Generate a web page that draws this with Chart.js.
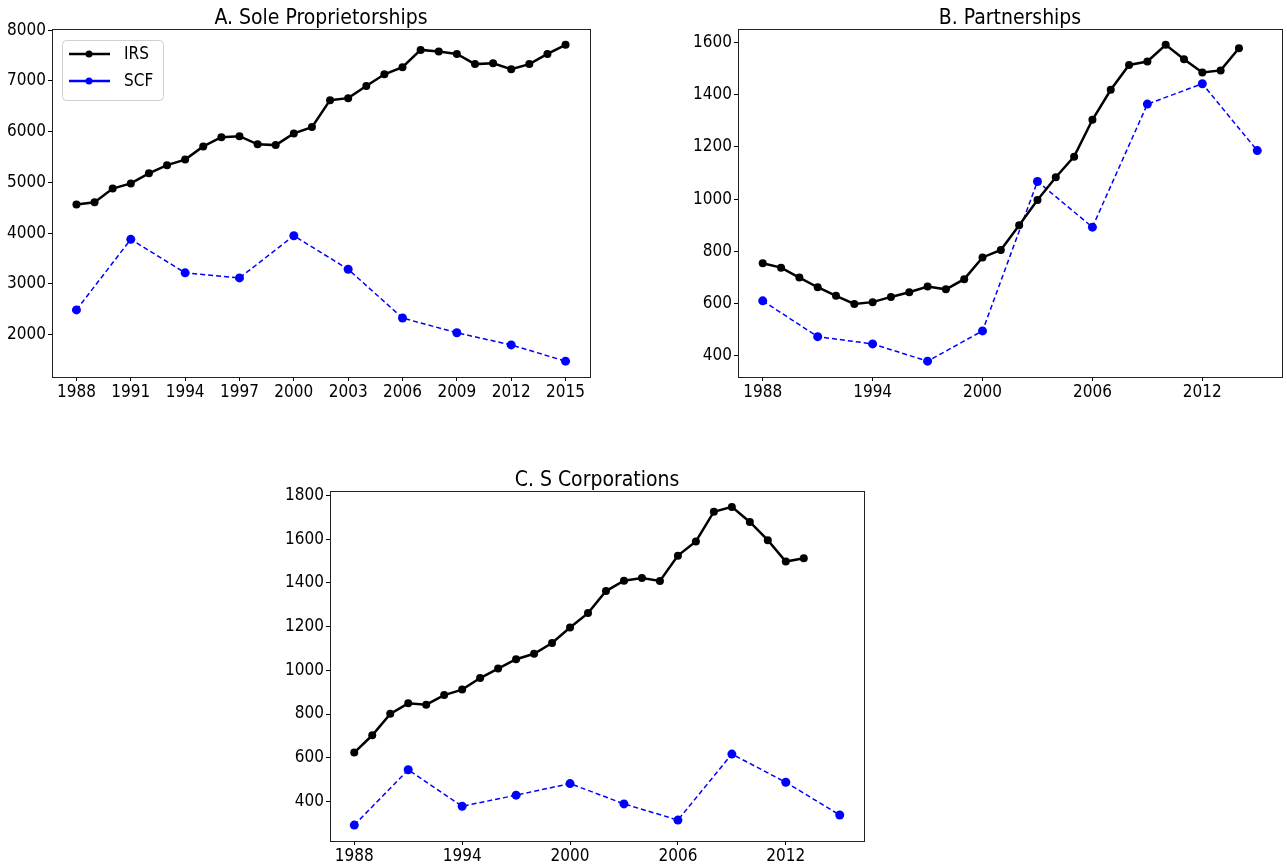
<!DOCTYPE html>
<html>
<head>
<meta charset="utf-8">
<script src="https://cdn.jsdelivr.net/npm/chart.js@4"></script>
<style>
  body { margin: 0; background: #fff; }
  #wrap { position: relative; width: 1287px; height: 867px; overflow: hidden; }
  canvas { position: absolute; }
</style>
</head>
<body>
<div id="wrap">
  <canvas id="chartA" width="600" height="410" style="left:0px;top:0px"></canvas>
  <canvas id="chartB" width="601" height="410" style="left:686px;top:0px"></canvas>
  <canvas id="chartC" width="600" height="405" style="left:278px;top:462px"></canvas>
</div>
<script>
// Years with IRS counts and SCF survey years
const yearsA = [1988, 1989, 1990, 1991, 1992, 1993, 1994, 1995, 1996, 1997, 1998, 1999, 2000, 2001,
                2002, 2003, 2004, 2005, 2006, 2007, 2008, 2009, 2010, 2011, 2012, 2013, 2014, 2015];
const yearsB = [1988, 1989, 1990, 1991, 1992, 1993, 1994, 1995, 1996, 1997, 1998, 1999, 2000, 2001,
                2002, 2003, 2004, 2005, 2006, 2007, 2008, 2009, 2010, 2011, 2012, 2013, 2014];
const yearsC = [1988, 1989, 1990, 1991, 1992, 1993, 1994, 1995, 1996, 1997, 1998, 1999, 2000, 2001,
                2002, 2003, 2004, 2005, 2006, 2007, 2008, 2009, 2010, 2011, 2012, 2013];
const scfYears = [1988, 1991, 1994, 1997, 2000, 2003, 2006, 2009, 2012, 2015];

// A. Sole Proprietorships
const irsA = [4565, 4610, 4880, 4980, 5180, 5340, 5450, 5710, 5890, 5910, 5750, 5735, 5965, 6090,
              6620, 6660, 6900, 7130, 7270, 7610, 7580, 7530, 7330, 7345, 7230, 7330, 7530, 7710];
const scfA = [2490, 3880, 3220, 3120, 3950, 3290, 2330, 2040, 1800, 1480];

// B. Partnerships
const irsB = [755, 738, 700, 663, 630, 599, 606, 626, 644, 666, 655, 694, 777, 806,
              900, 997, 1084, 1163, 1304, 1419, 1514, 1527, 1591, 1536, 1485, 1493, 1578];
const scfB = [611, 474, 446, 380, 496, 1068, 893, 1364, 1442, 1186];

// C. S Corporations
const irsC = [624, 703, 801, 849, 843, 887, 912, 965, 1008, 1051, 1076, 1125, 1196, 1262,
              1363, 1410, 1423, 1409, 1525, 1590, 1726, 1748, 1679, 1596, 1498, 1513];
const scfC = [292, 545, 378, 429, 482, 389, 315, 617, 488, 338];

const xTicksA = [1988, 1991, 1994, 1997, 2000, 2003, 2006, 2009, 2012, 2015];
const xTicksBC = [1988, 1994, 2000, 2006, 2012];
const yTicksA = [2000, 3000, 4000, 5000, 6000, 7000, 8000];
const yTicksB = [400, 600, 800, 1000, 1200, 1400, 1600];
const yTicksC = [400, 600, 800, 1000, 1200, 1400, 1600, 1800];

const FONT = "'DejaVu Sans Condensed', 'DejaVu Sans', sans-serif";

function pts(xs, ys) {
  return xs.map((x, i) => ({ x: x, y: ys[i] }));
}

// matplotlib style 5% margins
function limits(values) {
  const lo = Math.min(...values), hi = Math.max(...values);
  const pad = (hi - lo) * 0.05;
  return [lo - pad, hi + pad];
}

const framePlugin = {
  id: 'frame',
  afterDraw(chart, args, opts) {
    const ctx = chart.ctx, a = chart.chartArea;
    ctx.save();
    ctx.strokeStyle = '#222';
    ctx.lineWidth = 1;
    ctx.strokeRect(Math.round(a.left) + 0.5, Math.round(a.top) + 0.5,
                   Math.round(a.right - a.left), Math.round(a.bottom - a.top));
    // panel title
    ctx.fillStyle = '#000';
    ctx.font = '21px ' + FONT;
    ctx.textAlign = 'center';
    ctx.textBaseline = 'alphabetic';
    ctx.fillText(opts.title, (a.left + a.right) / 2, a.top - 5);
    // legend
    if (opts.legend) {
      const x0 = a.left + 10, y0 = a.top + 11, w = 101, h = 60;
      ctx.beginPath();
      ctx.roundRect(x0 + 0.5, y0 + 0.5, w, h, 4);
      ctx.fillStyle = 'rgba(255,255,255,0.8)';
      ctx.fill();
      ctx.strokeStyle = '#d0d0d0';
      ctx.stroke();
      const rows = [['IRS', '#000000', y0 + 14], ['SCF', '#0000ff', y0 + 41]];
      rows.forEach(r => {
        ctx.strokeStyle = r[1];
        ctx.lineWidth = 2.5;
        ctx.beginPath();
        ctx.moveTo(x0 + 7, r[2]);
        ctx.lineTo(x0 + 48, r[2]);
        ctx.stroke();
        ctx.fillStyle = r[1];
        ctx.beginPath();
        ctx.arc(x0 + 27, r[2], 3.5, 0, Math.PI * 2);
        ctx.fill();
        ctx.fillStyle = '#000';
        ctx.font = '17px ' + FONT;
        ctx.textAlign = 'left';
        ctx.textBaseline = 'middle';
        ctx.fillText(r[0], x0 + 62, r[2] + 1);
      });
    }
    ctx.restore();
  }
};

function makeChart(id, cfg) {
  const [ymin, ymax] = limits(cfg.irs.concat(cfg.scf));
  const [xmin, xmax] = limits([1988, 2015]);
  const tickFont = { family: FONT, size: 17 };
  new Chart(document.getElementById(id), {
    type: 'line',
    data: {
      datasets: [
        {
          label: 'IRS',
          data: pts(cfg.irsYears, cfg.irs),
          borderColor: '#000000',
          backgroundColor: '#000000',
          borderWidth: 2.5,
          pointRadius: 4,
          pointBorderWidth: 0,
          pointBackgroundColor: '#000000',
          tension: 0
        },
        {
          label: 'SCF',
          data: pts(scfYears, cfg.scf),
          borderColor: '#0000ff',
          backgroundColor: '#0000ff',
          borderWidth: 1.5,
          borderDash: [5, 3],
          pointRadius: 4.5,
          pointBorderWidth: 0,
          pointBackgroundColor: '#0000ff',
          tension: 0
        }
      ]
    },
    plugins: [framePlugin],
    options: {
      responsive: false,
      animation: false,
      devicePixelRatio: 1,
      layout: { padding: { left: 0, top: cfg.padTop, right: cfg.padRight, bottom: 0 } },
      plugins: {
        legend: { display: false },
        tooltip: { enabled: false },
        frame: { title: cfg.title, legend: cfg.legend }
      },
      scales: {
        x: {
          type: 'linear',
          min: xmin,
          max: xmax,
          afterBuildTicks: s => { s.ticks = cfg.xTicks.map(v => ({ value: v })); },
          afterFit: s => { s.height = cfg.xHeight; },
          ticks: { color: '#000', font: tickFont, maxRotation: 0, autoSkip: false, padding: 1,
                   callback: v => String(v) },
          grid: { display: true, drawOnChartArea: false, drawTicks: true, tickLength: 4, color: '#000' },
          border: { display: true, color: '#222', width: 1 }
        },
        y: {
          type: 'linear',
          min: ymin,
          max: ymax,
          afterBuildTicks: s => { s.ticks = cfg.yTicks.map(v => ({ value: v })); },
          afterFit: s => { s.width = 52; },
          ticks: { color: '#000', font: tickFont, autoSkip: false, padding: 2,
                   callback: v => String(v) },
          grid: { display: true, drawOnChartArea: false, drawTicks: true, tickLength: 4, color: '#000' },
          border: { display: true, color: '#222', width: 1 }
        }
      }
    }
  });
}

makeChart('chartA', { title: 'A. Sole Proprietorships', legend: true, irsYears: yearsA, irs: irsA, scf: scfA,
  xTicks: xTicksA, yTicks: yTicksA, padTop: 29, padRight: 10, xHeight: 33 });
makeChart('chartB', { title: 'B. Partnerships', legend: false, irsYears: yearsB, irs: irsB, scf: scfB,
  xTicks: xTicksBC, yTicks: yTicksB, padTop: 29, padRight: 5, xHeight: 33 });
makeChart('chartC', { title: 'C. S Corporations', legend: false, irsYears: yearsC, irs: irsC, scf: scfC,
  xTicks: xTicksBC, yTicks: yTicksC, padTop: 29, padRight: 14, xHeight: 26 });
</script>
</body>
</html>
